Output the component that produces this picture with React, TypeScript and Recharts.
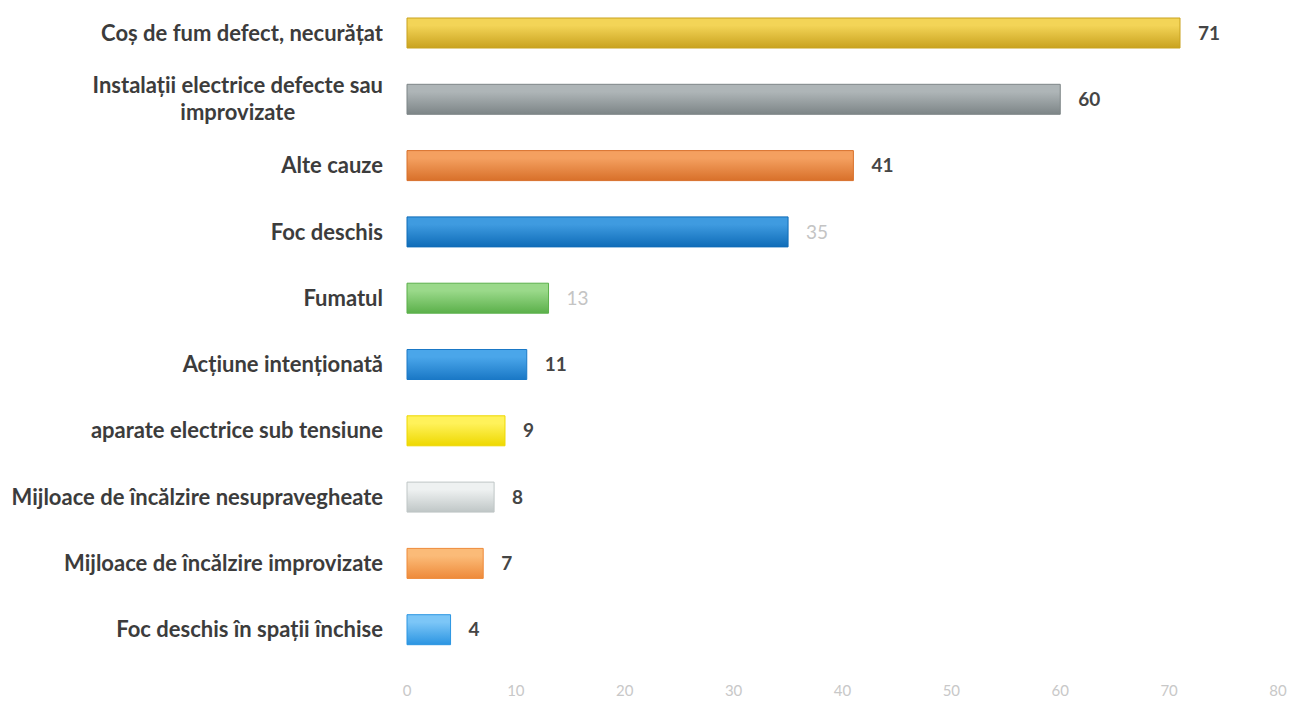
import React from 'react';
import { BarChart, Bar, XAxis, YAxis, Cell, LabelList } from 'recharts';

const causes = [
  'Coș de fum defect, necurățat',
  'Instalații electrice defecte sau\nimprovizate',
  'Alte cauze',
  'Foc deschis',
  'Fumatul',
  'Acțiune intenționată',
  'aparate electrice sub tensiune',
  'Mijloace de încălzire nesupravegheate',
  'Mijloace de încălzire improvizate',
  'Foc deschis în spații închise',
];

const counts = [71, 60, 41, 35, 13, 11, 9, 8, 7, 4];

const xTicks = [0, 10, 20, 30, 40, 50, 60, 70, 80];

// top / bottom shade of each glossy bar
const barShades = [
  ['#f3d457', '#c9a21f'],
  ['#aeb5b7', '#7d8587'],
  ['#f4a060', '#d8702a'],
  ['#3f9be0', '#0f6cb8'],
  ['#9ad98a', '#5bb04a'],
  ['#4aa6ea', '#1a78c6'],
  ['#fff25a', '#eed800'],
  ['#eef1f1', '#bfc6c6'],
  ['#fbbb78', '#ee8a3a'],
  ['#7cc6f7', '#2b95e2'],
];

// the two faded value labels in the source
const fadedLabels = [3, 4];

const data = causes.map((name, i) => ({ name, value: counts[i] }));

const CauseTick = (props: any) => {
  const { x, y, payload } = props;
  return (
    <foreignObject x={x - 420} y={y - 31} width={404} height={60}>
      <div
        style={{
          height: '100%',
          display: 'flex',
          alignItems: 'center',
          justifyContent: 'flex-end',
        }}
      >
        <div
          style={{
            textAlign: 'center',
            whiteSpace: 'pre-line',
            fontFamily: 'Lato, "Open Sans", sans-serif',
            fontWeight: 700,
            fontSize: 22,
            lineHeight: '27px',
            color: '#3c3c3c',
          }}
        >
          {payload.value}
        </div>
      </div>
    </foreignObject>
  );
};

const ValueLabel = (props: any) => {
  const { x, y, width, height, value, index } = props;
  const faded = fadedLabels.includes(index);
  return (
    <text
      x={x + width + 18}
      y={y + height / 2}
      dy="0.35em"
      fontFamily='Lato, "Open Sans", sans-serif'
      fontWeight={faded ? 400 : 700}
      fontSize={19}
      fill={faded ? '#c4c4c4' : '#454545'}
    >
      {value}
    </text>
  );
};

export default function App() {
  return (
    <div style={{ position: 'absolute', left: 0, top: 0, background: '#fff' }}>
      <BarChart
        width={1295}
        height={705}
        data={data}
        layout="vertical"
        margin={{ top: 0, right: 17, left: 0, bottom: 12 }}
        barSize={30}
      >
        <defs>
          {barShades.map(([top, bottom], i) => (
            <linearGradient key={i} id={`shade-${i}`} x1="0" y1="0" x2="0" y2="1">
              <stop offset="0%" stopColor={top} />
              <stop offset="25%" stopColor={top} />
              <stop offset="100%" stopColor={bottom} />
            </linearGradient>
          ))}
        </defs>
        <XAxis
          type="number"
          domain={[0, 80]}
          ticks={xTicks}
          axisLine={false}
          tickLine={false}
          height={30}
          tick={{
            fill: '#c8c8c8',
            fontSize: 15,
            fontFamily: 'Lato, "Open Sans", sans-serif',
          }}
          dy={14}
        />
        <YAxis
          type="category"
          dataKey="name"
          width={407}
          axisLine={false}
          tickLine={false}
          tick={<CauseTick />}
        />
        <Bar dataKey="value" isAnimationActive={false}>
          {data.map((_, i) => (
            <Cell key={i} fill={`url(#shade-${i})`} stroke={barShades[i][1]} strokeWidth={1} />
          ))}
          <LabelList dataKey="value" content={<ValueLabel />} />
        </Bar>
      </BarChart>
    </div>
  );
}
